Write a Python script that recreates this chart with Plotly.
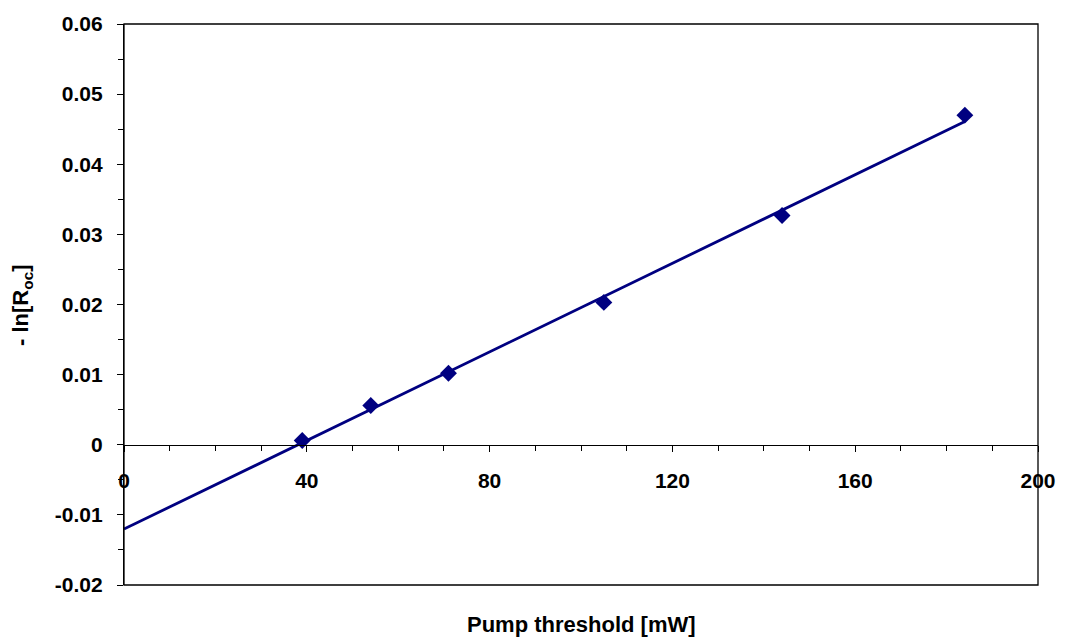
import numpy as np
import plotly.graph_objects as go

# Data
pump_threshold = [39, 54, 71, 105, 144, 184]
neg_ln_roc = [0.0006, 0.0056, 0.0102, 0.0203, 0.0327, 0.0470]

x_ticks = [0, 40, 80, 120, 160, 200]
y_ticks = [-0.02, -0.01, 0, 0.01, 0.02, 0.03, 0.04, 0.05, 0.06]
y_tick_text = ["-0.02", "-0.01", "0", "0.01", "0.02", "0.03", "0.04", "0.05", "0.06"]

# Linear trend line (least-squares fit of the data), drawn from x=0 to last point
slope, intercept = np.polyfit(pump_threshold, neg_ln_roc, 1)
fit_x = [0, pump_threshold[-1]]
fit_y = [intercept + slope * v for v in fit_x]

NAVY = "#000080"
FONT = "Liberation Sans, Arial, sans-serif"

fig = go.Figure()
fig.add_trace(go.Scatter(x=fit_x, y=fit_y, mode="lines",
                         line=dict(color=NAVY, width=2.8), hoverinfo="skip"))
fig.add_trace(go.Scatter(x=pump_threshold, y=neg_ln_roc, mode="markers",
                         marker=dict(symbol="diamond", size=13, color=NAVY)))

fig.update_layout(
    width=1068, height=639,
    margin=dict(l=124, r=26, t=16, b=54),
    paper_bgcolor="white", plot_bgcolor="white",
    showlegend=False,
    font=dict(family=FONT, size=21, color="black"),
    xaxis=dict(
        range=[0, 200], tickvals=x_ticks, ticktext=[str(v) for v in x_ticks],
        anchor="free", position=0.25,
        showline=True, linecolor="black", linewidth=1.3,
        ticks="outside", ticklen=6, tickcolor="black", tickwidth=1,
        minor=dict(dtick=10, ticks="outside", ticklen=5, tickcolor="black", tickwidth=1),
        showgrid=False, zeroline=False, ticklabelstandoff=11,
        tickfont=dict(family=FONT, size=21, color="black", weight="bold"),
    ),
    yaxis=dict(
        range=[-0.02, 0.06], tickvals=y_ticks, ticktext=y_tick_text,
        showline=True, linecolor="black", linewidth=1.3,
        ticks="outside", ticklen=6, tickcolor="black", tickwidth=1,
        minor=dict(dtick=0.005, ticks="outside", ticklen=5, tickcolor="black", tickwidth=1),
        showgrid=False, zeroline=False, ticklabelstandoff=10,
        tickfont=dict(family=FONT, size=21, color="black", weight="bold"),
    ),
    shapes=[dict(type="rect", xref="paper", yref="paper", x0=0, y0=0, x1=1, y1=1,
                 line=dict(color="black", width=1.3), layer="above")],
    annotations=[
        dict(text="<b>Pump threshold [mW]</b>", xref="paper", yref="paper",
             x=0.5, y=-0.0703, xanchor="center", yanchor="middle", showarrow=False,
             font=dict(family=FONT, size=22, color="black")),
        dict(text="<b>- ln[R<sub>oc</sub>]</b>", xref="paper", yref="paper",
             x=-0.1122, y=0.5, xanchor="center", yanchor="middle", showarrow=False,
             textangle=-90, font=dict(family=FONT, size=22, color="black")),
    ],
)

fig.write_html("out.html")
